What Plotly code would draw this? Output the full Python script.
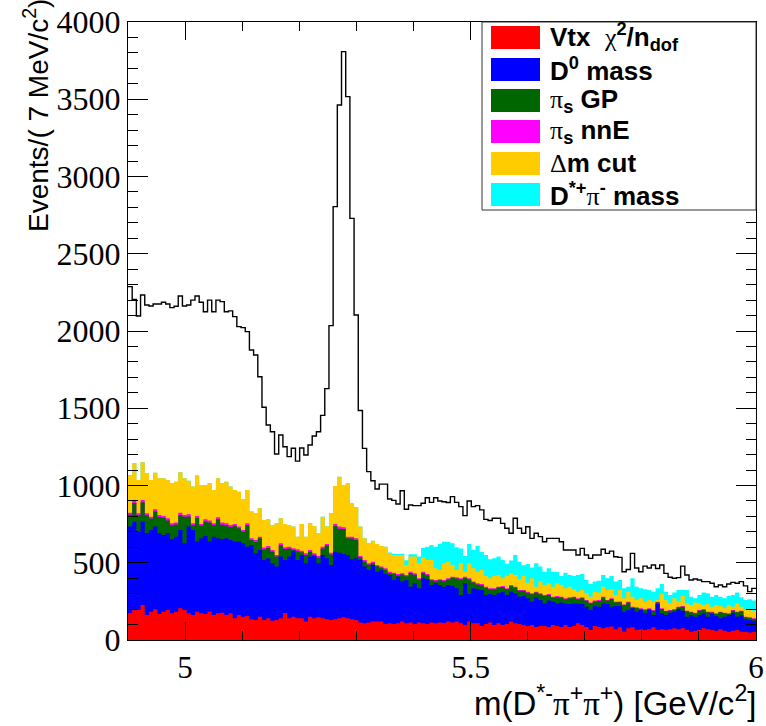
import numpy as np
import plotly.graph_objects as go

# Binning: m(D*- pi+ pi+) in GeV/c^2
x_lo, x_hi, n_bins = 4.9, 6.0, 150

# All selected candidates (black outline histogram)
total = [
    2287, 2205, 2097, 2233, 2168, 2162, 2175, 2175, 2186, 2175,
    2151, 2160, 2227, 2162, 2168, 2200, 2227, 2186, 2125, 2200,
    2125, 2200, 2190, 2125, 2130, 2093, 2028, 2022, 1996, 1877,
    1845, 1704, 1506, 1392, 1348, 1204, 1327, 1251,
    1187, 1241, 1158, 1243, 1197, 1262, 1320, 1348, 1454, 1627,
    2035, 2805, 3463, 3808, 3517, 2729, 2104, 1485, 1240, 1090,
    1031, 977, 1009, 1009, 913, 904, 880, 966, 846, 874,
    870, 870, 885, 921, 891, 921, 900, 895,
    890, 928, 891, 863, 805, 900, 863, 870, 842, 781,
    773, 788, 788, 755, 723, 691, 788, 723, 691, 733,
    658, 691, 669, 636, 658, 658, 658, 636, 583, 583,
    583, 550, 593, 550, 528, 550, 550,
    587, 561, 575, 539, 535, 442, 456, 561, 466, 442,
    478, 466, 485, 463, 485, 431, 406, 400, 404, 478,
    421, 388, 395, 388, 378, 378, 367, 345, 356, 345,
    362, 373, 367, 378, 350, 313, 334,
]

# Stacked levels of the rejected candidates, bottom to top
top_vtx = [
    173, 199, 194, 227, 162, 183, 199, 168, 183, 194,
    173, 183, 205, 194, 173, 162, 183, 173, 168, 183,
    162, 173, 177, 162, 173, 140, 162, 151, 155, 134,
    130, 151, 130, 140, 125, 130, 140, 175,
    140, 151, 140, 140, 119, 151, 140, 147, 140, 134,
    130, 134, 140, 147, 140, 134, 130, 113, 108, 113,
    119, 119, 119, 104, 108, 104, 108, 119, 108, 113,
    104, 113, 108, 104, 113, 108, 113, 110,
    119, 113, 119, 108, 97, 119, 108, 108, 91, 104,
    113, 97, 108, 97, 104, 119, 108, 104, 97, 91,
    97, 84, 91, 91, 84, 97, 91, 84, 97, 84,
    91, 108, 97, 84, 65, 91, 84,
    76, 82, 87, 69, 82, 54, 76, 82, 65, 69,
    65, 69, 82, 65, 69, 65, 69, 76, 69, 76,
    65, 54, 60, 65, 76, 69, 65, 60, 69, 60,
    54, 60, 65, 54, 54, 48, 54,
]

top_d0 = [
    734, 766, 701, 766, 691, 712, 734, 691, 680, 691,
    652, 669, 712, 626, 734, 712, 637, 658, 673, 637,
    669, 658, 652, 658, 647, 637, 637, 626, 604, 615,
    561, 583, 518, 529, 496, 475, 540, 518,
    540, 578, 518, 550, 496, 540, 544, 496, 550, 529,
    486, 572, 565, 557, 550, 522, 529, 518, 475, 453,
    486, 442, 453, 427, 421, 388, 410, 378, 388, 345,
    367, 335, 399, 393, 356, 367, 356, 345,
    356, 350, 335, 291, 367, 298, 335, 328, 324, 291,
    298, 291, 302, 313, 291, 313, 302, 280, 285, 270,
    248, 276, 259, 237, 255, 248, 237, 242, 237, 233,
    237, 237, 233, 216, 194, 220, 216,
    237, 233, 216, 220, 220, 183, 194, 205, 183, 194,
    177, 194, 162, 233, 173, 162, 177, 183, 199, 190,
    151, 162, 151, 162, 173, 151, 168, 155, 140, 151,
    162, 173, 151, 162, 134, 130, 125,
]

top_nne = [
    824, 902, 820, 906, 820, 798, 846, 809, 803, 788,
    755, 760, 824, 809, 814, 755, 803, 751, 781, 773,
    755, 794, 760, 755, 745, 751, 734, 712, 755, 658,
    647, 669, 598, 609, 583, 550, 626, 600,
    604, 594, 587, 578, 561, 583, 561, 544, 604, 622,
    565, 751, 734, 730, 669, 669, 658, 544, 518, 496,
    507, 486, 475, 464, 442, 436, 427, 432, 421, 442,
    432, 399, 442, 427, 393, 388, 393, 388,
    399, 410, 406, 399, 410, 399, 378, 367, 362, 345,
    335, 335, 345, 350, 335, 356, 345, 324, 324, 313,
    302, 313, 302, 291, 298, 280, 285, 280, 270, 276,
    280, 270, 276, 259, 242, 255, 259,
    280, 259, 270, 248, 250, 230, 248, 215, 212, 205,
    199, 205, 194, 248, 205, 190, 194, 199, 216, 220,
    190, 183, 177, 194, 199, 183, 183, 173, 183, 177,
    173, 194, 183, 190, 151, 147, 140,
]

# pi_s nnE rejections (thin layer between pi_s GP and Delta m cut)
nne = [
    14, 16, 12, 15, 13, 12, 14, 13, 12, 14,
    12, 13, 15, 12, 14, 12, 13, 12, 14, 12,
    13, 12, 14, 12, 13, 12, 11, 12, 13, 11,
    12, 11, 12, 13, 11, 10, 12, 11,
    11, 10, 12, 10, 11, 12, 10, 11, 12, 10,
    11, 13, 14, 12, 11, 12, 10, 9, 10, 9,
    10, 9, 8, 9, 10, 8, 9, 8, 9, 8,
    9, 8, 9, 8, 7, 8, 7, 8,
    8, 7, 8, 7, 8, 7, 6, 7, 8, 7,
    6, 7, 6, 7, 6, 7, 6, 5, 6, 7,
    6, 5, 6, 5, 6, 5, 6, 5, 6, 5,
    5, 6, 5, 5, 4, 5, 6,
    5, 4, 5, 4, 5, 4, 5, 4, 5, 4,
    5, 4, 4, 5, 4, 4, 5, 4, 4, 5,
    4, 4, 5, 4, 4, 4, 5, 4, 4, 4,
    4, 5, 4, 4, 4, 4, 4,
]

top_dm = [
    1068, 1144, 1036, 1150, 1079, 1036, 1083, 1047, 1047, 1036,
    1014, 1025, 1085, 1047, 1031, 993, 1064, 1003, 1003, 1014,
    971, 1047, 1014, 1025, 993, 971, 960, 911, 971, 831,
    820, 852, 777, 781, 745, 755, 788, 751,
    745, 734, 669, 751, 669, 755, 738, 691, 798, 734,
    820, 997, 1057, 1003, 1014, 885, 859, 734, 658, 626,
    643, 622, 609, 604, 561, 550, 550, 550, 486, 540,
    540, 496, 535, 518, 518, 464, 453, 496,
    507, 486, 453, 496, 442, 496, 464, 442, 453, 414,
    399, 414, 421, 399, 414, 432, 421, 393, 414, 371,
    399, 345, 378, 356, 367, 345, 367, 356, 335, 345,
    328, 313, 324, 302, 280, 313, 307,
    345, 324, 328, 291, 324, 270, 313, 280, 259, 270,
    248, 259, 248, 259, 298, 259, 237, 270, 248, 285,
    237, 227, 242, 237, 227, 233, 216, 227, 220, 205,
    227, 216, 237, 216, 194, 194, 190,
]

# D*+ pi- mass rejections (top layer)
dstpi = [
    0, 0, 0, 0, 0, 0, 0, 0, 0, 0,
    0, 0, 0, 0, 0, 0, 0, 0, 0, 0,
    0, 0, 0, 0, 0, 0, 0, 0, 0, 0,
    0, 0, 0, 0, 0, 0, 0, 0, 0, 0,
    0, 0, 0, 0, 0, 0, 0, 0, 0, 0,
    0, 0, 0, 0, 0, 0, 0, 0, 0, 0,
    0, 0, 5, 8, 6, 8, 30, 15, 15, 45,
    60, 86, 97, 140, 170, 140, 129, 140, 147, 97,
    102, 126, 119, 167, 119, 136, 123, 115, 119, 119,
    80, 82, 129, 114, 70, 121, 70, 151, 97, 86,
    97, 97, 75, 58, 101, 76, 86, 108, 103, 86,
    82, 65, 77, 76, 75, 86, 87, 64, 65, 32,
    119, 86, 65, 80, 65, 65, 76, 64, 54, 54,
    37, 76, 40, 87, 53, 28, 54, 80, 69, 64,
    64, 60, 65, 58, 75, 70, 60, 65, 69, 65,
]

greek = "<span style='font-family:Liberation Serif;font-weight:normal'>{}</span>"
legend_labels = [
    "<b>Vtx  " + greek.format("χ") + "<sup>2</sup>/n<sub>dof</sub></b>",
    "<b>D<sup>0</sup> mass</b>",
    "<b>" + greek.format("π") + "<sub>s</sub> GP</b>",
    "<b>" + greek.format("π") + "<sub>s</sub> nnE</b>",
    "<b>" + greek.format("Δ") + "m cut</b>",
    "<b>D<sup>*+</sup>" + greek.format("π") + "<sup>-</sup> mass</b>",
]
colors = ["#ff0000", "#0000ff", "#006600", "#ff00ff", "#ffcc00", "#00ffff"]

# ---------------------------------------------------------------------------
edges = np.linspace(x_lo, x_hi, n_bins + 1)
total = np.asarray(total, float)
top_vtx = np.asarray(top_vtx, float)
top_d0 = np.asarray(top_d0, float)
top_nne = np.asarray(top_nne, float)
top_gp = top_nne - np.asarray(nne, float)
top_dm = np.asarray(top_dm, float)
top_dstpi = top_dm + np.asarray(dstpi, float)

levels = [top_vtx, top_d0, top_gp, top_nne, top_dm, top_dstpi]


def steps(vals):
    return np.append(vals, vals[-1])


fig = go.Figure()
# cumulative histograms drawn from the top of the stack downwards
for lev, col in reversed(list(zip(levels, colors))):
    fig.add_trace(go.Scatter(
        x=edges, y=steps(lev), mode="lines", line=dict(shape="hv", width=0, color=col),
        fill="tozeroy", fillcolor=col, hoverinfo="skip", showlegend=False))

fig.add_trace(go.Scatter(
    x=edges, y=steps(total), mode="lines",
    line=dict(shape="hv", width=1.4, color="black"), showlegend=False))

W, H = 766, 726
ml, mr, mt, mb = 128, 10, 22, 86
pw, ph = W - ml - mr, H - mt - mb


def px(x):
    return (x - ml) / pw


def py(y):
    return (H - mb - y) / ph


serif = "Liberation Serif, Times New Roman, serif"
sans = "Liberation Sans, Arial, sans-serif"

shapes = [dict(type="rect", xref="paper", yref="paper", x0=px(482), x1=1.0,
               y0=py(210), y1=1.0, fillcolor="white",
               line=dict(color="#333333", width=1), layer="above")]
annotations = []
row_tops = [26, 58, 89, 120, 152, 183]
for i, (lab, col) in enumerate(zip(legend_labels, colors)):
    t = row_tops[i]
    shapes.append(dict(type="rect", xref="paper", yref="paper", x0=px(491), x1=px(540),
                       y0=py(t + 23), y1=py(t), fillcolor=col, line=dict(width=0),
                       layer="above"))
    annotations.append(dict(xref="paper", yref="paper", x=px(548), y=py(t + 11.5),
                            xanchor="left", yanchor="middle", text=lab, showarrow=False,
                            font=dict(family=sans, size=26, color="black")))

annotations.append(dict(
    xref="paper", yref="paper", x=px(36), y=py(116), textangle=-90,
    xanchor="center", yanchor="middle", showarrow=False,
    text="Events/( 7 MeV/c<sup>2</sup>)", font=dict(family=sans, size=28, color="black")))
annotations.append(dict(
    xref="paper", yref="paper", x=px(758), y=py(701), xanchor="right", yanchor="middle",
    showarrow=False,
    text="m(D<sup>*-</sup>" + greek.format("π") + "<sup>+</sup>"
         + greek.format("π") + "<sup>+</sup>) [GeV/c<sup>2</sup>]",
    font=dict(family=sans, size=33, color="black")))

fig.update_layout(
    width=W, height=H, margin=dict(l=ml, r=mr, t=mt, b=mb, autoexpand=False),
    paper_bgcolor="white", plot_bgcolor="white",
    shapes=shapes, annotations=annotations,
    xaxis=dict(range=[x_lo, x_hi], tickvals=[5, 5.5, 6], ticktext=["5", "5.5", "6"],
               ticks="inside", ticklen=18, tickwidth=1, tickcolor="black",
               minor=dict(dtick=0.1, tick0=5, ticks="inside", ticklen=9, tickcolor="black"),
               showline=True, linecolor="black", linewidth=1, mirror="ticks",
               showgrid=False, zeroline=False, automargin=False,
               tickfont=dict(family=serif, size=31, color="black")),
    yaxis=dict(range=[0, 4000], dtick=500, tick0=0,
               ticks="inside", ticklen=20, tickwidth=1, tickcolor="black",
               minor=dict(dtick=100, ticks="inside", ticklen=10, tickcolor="black"),
               showline=True, linecolor="black", linewidth=1, mirror="ticks",
               showgrid=False, zeroline=False, automargin=False,
               tickfont=dict(family=serif, size=32, color="black")),
)

fig.write_html("out.html")
